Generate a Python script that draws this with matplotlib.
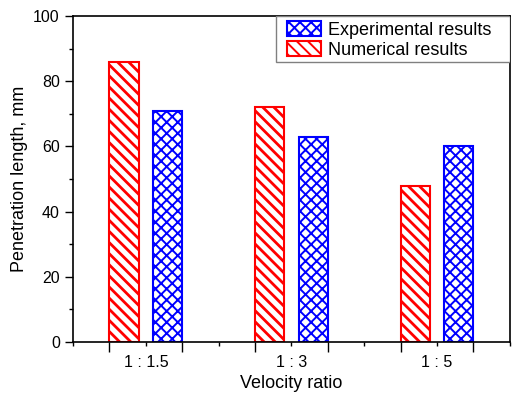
import numpy as np
import matplotlib.pyplot as plt
from matplotlib.patches import Rectangle

plt.rcParams['font.family'] = ['Liberation Sans', 'DejaVu Sans']

ratios = ['1 : 1.5', '1 : 3', '1 : 5']
numerical = [86, 72, 48]
experimental = [71, 63, 60]

x = np.arange(1, len(ratios) + 1)
w = 0.2

fig = plt.figure(figsize=(5.16, 3.95), dpi=100)
ax = fig.add_axes([0.1415, 0.134, 0.8465, 0.8255])

plt.rcParams['hatch.linewidth'] = 2.0
b1 = ax.bar(x - 0.15, numerical, w, facecolor='white', edgecolor='red',
            hatch='\\\\\\', linewidth=1.5, label='Numerical results')
plt.rcParams['hatch.linewidth'] = 1.4
b2 = ax.bar(x + 0.15, experimental, w, facecolor='white', edgecolor='blue',
            hatch='xxx', linewidth=1.5, label='Experimental results')

ax.set_xlim(0.5, 3.5)
ax.set_ylim(0, 100)

ax.set_xticks(np.arange(0.5, 3.51, 0.5))
ax.set_xticklabels(['', ratios[0], '', ratios[1], '', ratios[2], ''])
ax.set_xticks(np.arange(0.75, 3.3, 0.5), minor=True)
ax.tick_params(axis='x', which='major', length=3, width=1, labelsize=11.5, pad=6)
ax.tick_params(axis='x', which='minor', length=7, width=1)

ax.set_yticks(np.arange(0, 101, 20))
ax.set_yticks(np.arange(10, 100, 20), minor=True)
ax.tick_params(axis='y', which='major', length=6, width=1, labelsize=11.5)
ax.tick_params(axis='y', which='minor', length=3, width=1)

for s in ax.spines.values():
    s.set_linewidth(1.2)

ax.set_xlabel('Velocity ratio', fontsize=13)
ax.set_ylabel('Penetration length, mm', fontsize=13)

# legend box like origin: wide frame touching the top right corner
ax.add_patch(Rectangle((0.4645, 0.859), 0.5355, 0.141, transform=ax.transAxes,
                       facecolor='white', edgecolor='gray', linewidth=1.0, zorder=4))
leg = ax.legend(handles=[b2, b1], loc='upper left', bbox_to_anchor=(0.482, 0.995),
                fontsize=13, frameon=False, borderaxespad=0,
                handlelength=1.9, handleheight=0.85, borderpad=0.2,
                labelspacing=0.15, handletextpad=0.35)
leg.set_zorder(5)

fig.savefig('out.png', dpi=100)
